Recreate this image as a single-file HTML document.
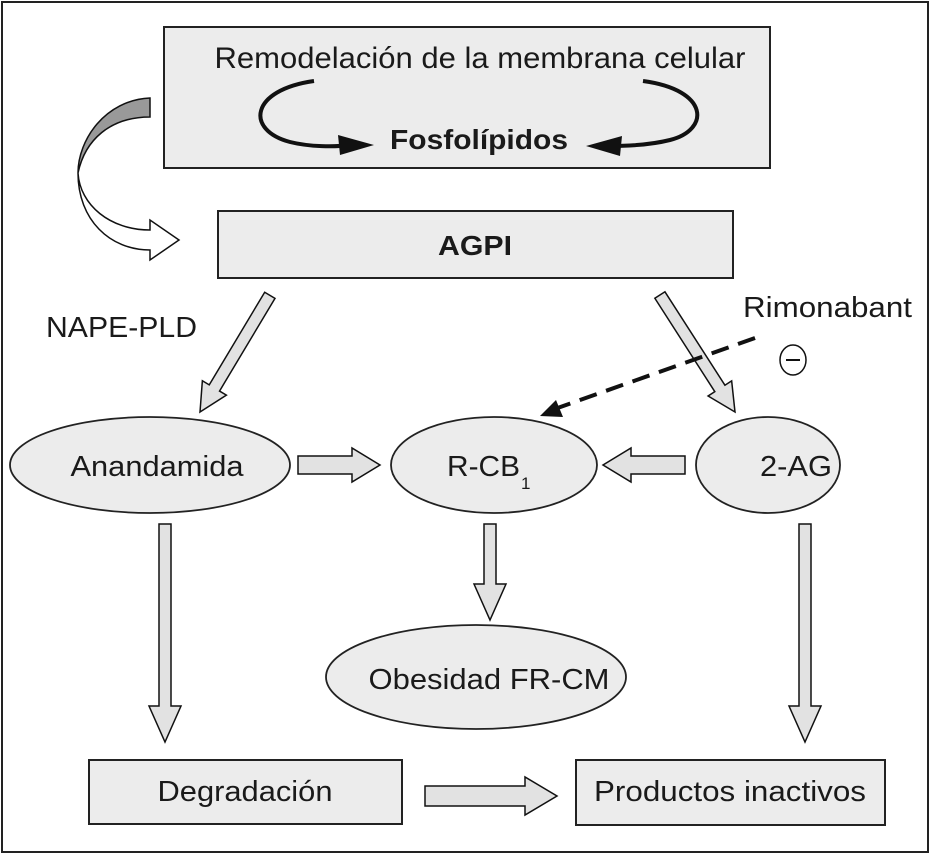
<!DOCTYPE html>
<html><head><meta charset="utf-8"><style>
html,body{margin:0;padding:0;background:#fff}
svg{display:block}
text{font-family:"Liberation Sans",Arial,sans-serif;fill:#1a1a1a}
</style></head><body>
<svg width="931" height="855" viewBox="0 0 931 855" xmlns="http://www.w3.org/2000/svg">
<rect x="2" y="2" width="926" height="850" fill="#fff" stroke="#222" stroke-width="2"/>

<!-- top box -->
<rect x="164" y="27" width="606" height="141" fill="#ececec" stroke="#222" stroke-width="2"/>
<text x="480" y="68" font-size="30" text-anchor="middle" textLength="531" lengthAdjust="spacingAndGlyphs">Remodelación de la membrana celular</text>
<text x="479" y="149" font-size="28" font-weight="bold" text-anchor="middle" textLength="178" lengthAdjust="spacingAndGlyphs">Fosfolípidos</text>
<path d="M314,81 C250,90 245,130 290,142 C310,147 335,147 350,145" fill="none" stroke="#111" stroke-width="4"/>
<path d="M338,135 L374,145 L340,155 Z" fill="#111"/>
<path d="M643,81 C710,90 710,130 670,140 C650,145 625,146 610,146" fill="none" stroke="#111" stroke-width="4"/>
<path d="M622,136 L586,146 L620,156 Z" fill="#111"/>

<!-- curved arrow -->
<path d="M150,98 C105,100 78,140 78,173 C85,140 110,117 150,117 Z" fill="#999" stroke="#111" stroke-width="1.5"/>
<path d="M78,173 C78,220 110,250 150,250 L150,260 L179,240 L150,220 L150,230 C110,230 80,205 78,173 Z" fill="#fff" stroke="#111" stroke-width="1.5"/>

<!-- AGPI -->
<rect x="218" y="211" width="515" height="67" fill="#ececec" stroke="#222" stroke-width="2"/>
<text x="475" y="255" font-size="28" font-weight="bold" text-anchor="middle" textLength="74" lengthAdjust="spacingAndGlyphs">AGPI</text>

<text x="46" y="337" font-size="29" textLength="151" lengthAdjust="spacingAndGlyphs">NAPE-PLD</text>
<text x="743" y="317" font-size="29" textLength="169" lengthAdjust="spacingAndGlyphs">Rimonabant</text>
<ellipse cx="793" cy="360" rx="13" ry="15" fill="none" stroke="#111" stroke-width="1.5"/>
<line x1="786" y1="360" x2="800" y2="360" stroke="#111" stroke-width="2"/>

<g fill="#e2e2e2" stroke="#111" stroke-width="1.5">
<g transform="translate(200,412) rotate(120.9)"><polygon points="0,0 -28,-14 -28,-6 -136,-6 -136,6 -28,6 -28,14"/></g>
<g transform="translate(735,412) rotate(57.3)"><polygon points="0,0 -28,-14 -28,-6 -139,-6 -139,6 -28,6 -28,14"/></g>
<polygon points="298,456 352,456 352,448 380,465 352,482 352,474 298,474"/>
<polygon points="685,456 631,456 631,448 603,465 631,482 631,474 685,474"/>
<polygon points="159,524 171,524 171,706 181,706 165,742 149,706 159,706"/>
<polygon points="799,524 811,524 811,706 821,706 805,742 789,706 799,706"/>
<polygon points="484,524 496,524 496,584 506,584 490,620 474,584 484,584"/>
<polygon points="425,786 525,786 525,777 557,796 525,815 525,806 425,806"/>
</g>

<!-- dashed -->
<line x1="755" y1="338" x2="552" y2="410" stroke="#111" stroke-width="4" stroke-dasharray="18,10"/>
<path d="M556,400 L540,416 L563,417 Z" fill="#111"/>

<g fill="#ececec" stroke="#222" stroke-width="1.8">
<ellipse cx="150" cy="465" rx="140" ry="48"/>
<ellipse cx="494" cy="465" rx="103" ry="48"/>
<ellipse cx="768" cy="465" rx="72" ry="48"/>
<ellipse cx="476" cy="677" rx="150" ry="52"/>
</g>
<text x="157" y="476" font-size="29" text-anchor="middle" textLength="173" lengthAdjust="spacingAndGlyphs">Anandamida</text>
<text x="447" y="476" font-size="29" textLength="73" lengthAdjust="spacingAndGlyphs">R-CB</text><text x="521" y="489" font-size="17">1</text>
<text x="796" y="476" font-size="29" text-anchor="middle" textLength="72" lengthAdjust="spacingAndGlyphs">2-AG</text>
<text x="489" y="689" font-size="29" text-anchor="middle" textLength="241" lengthAdjust="spacingAndGlyphs">Obesidad FR-CM</text>

<rect x="89" y="760" width="313" height="64" fill="#ececec" stroke="#222" stroke-width="2"/>
<text x="245" y="801" font-size="29" text-anchor="middle" textLength="175" lengthAdjust="spacingAndGlyphs">Degradación</text>
<rect x="576" y="760" width="309" height="65" fill="#ececec" stroke="#222" stroke-width="2"/>
<text x="730" y="801" font-size="29" text-anchor="middle" textLength="272" lengthAdjust="spacingAndGlyphs">Productos inactivos</text>
</svg>
</body></html>
